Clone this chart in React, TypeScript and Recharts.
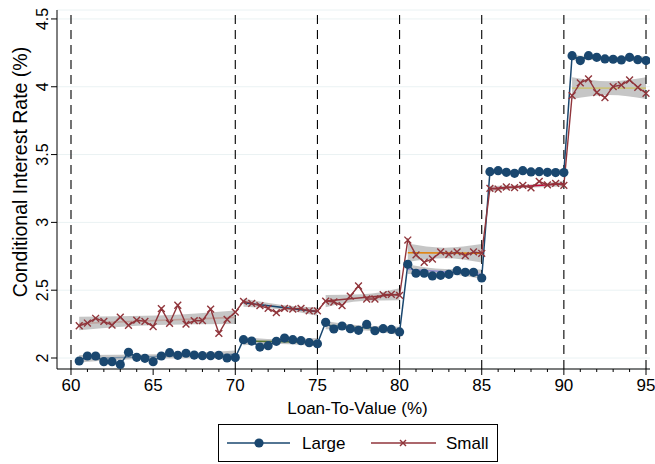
import {
  Area,
  CartesianGrid,
  ComposedChart,
  Label,
  Line,
  ReferenceLine,
  XAxis,
  YAxis,
} from "recharts";

// Binned LTV (upper edge of each half-point bin)
const ltv = [
  60.5, 61, 61.5, 62, 62.5, 63, 63.5, 64, 64.5, 65, 65.5, 66, 66.5, 67, 67.5,
  68, 68.5, 69, 69.5, 70, 70.5, 71, 71.5, 72, 72.5, 73, 73.5, 74, 74.5, 75,
  75.5, 76, 76.5, 77, 77.5, 78, 78.5, 79, 79.5, 80, 80.5, 81, 81.5, 82, 82.5,
  83, 83.5, 84, 84.5, 85, 85.5, 86, 86.5, 87, 87.5, 88, 88.5, 89, 89.5, 90,
  90.5, 91, 91.5, 92, 92.5, 93, 93.5, 94, 94.5, 95,
];

const large = [
  1.978, 2.015, 2.015, 1.973, 1.973, 1.953, 2.042, 2.005, 1.998, 1.973, 2.015,
  2.039, 2.02, 2.035, 2.022, 2.017, 2.017, 2.02, 2.0, 2.003,
  2.135, 2.125, 2.081, 2.091, 2.123, 2.147, 2.135, 2.128, 2.113, 2.105,
  2.263, 2.214, 2.236, 2.216, 2.204, 2.248, 2.201, 2.216, 2.211, 2.192,
  2.691, 2.625, 2.625, 2.605, 2.61, 2.617, 2.644, 2.632, 2.632, 2.59,
  3.374, 3.381, 3.369, 3.362, 3.381, 3.372, 3.374, 3.369, 3.367, 3.367,
  4.229, 4.193, 4.229, 4.217, 4.205, 4.203, 4.198, 4.217, 4.2, 4.193,
];

const small = [
  2.238, 2.258, 2.293, 2.27, 2.243, 2.302, 2.241, 2.28, 2.27, 2.231, 2.364,
  2.256, 2.389, 2.25, 2.275, 2.275, 2.361, 2.182, 2.285, 2.338,
  2.418, 2.403, 2.386, 2.366, 2.334, 2.366, 2.361, 2.366, 2.347, 2.347,
  2.42, 2.413, 2.386, 2.457, 2.531, 2.435, 2.435, 2.467, 2.47, 2.462,
  2.87, 2.76, 2.706, 2.73, 2.782, 2.765, 2.782, 2.755, 2.782, 2.772,
  3.251, 3.246, 3.261, 3.256, 3.273, 3.254, 3.303, 3.276, 3.288, 3.273,
  3.934, 4.028, 4.058, 3.957, 3.92, 4.001, 4.013, 4.05, 3.996, 3.952,
];

// Linear fits with 95% CI, one per LTV band
const segStart = [60.5, 70.5, 75.5, 80.5, 85.5, 90.5];
const segMid = [65.25, 72.75, 77.75, 82.75, 87.75, 92.75];
const segEnd = [70, 75, 80, 85, 90, 95];

const largeFitStart = [1.995, 2.125, 2.243, 2.655, 3.373, 4.215];
const largeFitMid = [2.012, 2.121, 2.222, 2.637, 3.372, 4.21];
const largeFitEnd = [2.028, 2.117, 2.2, 2.618, 3.371, 4.205];
const largeCiEdge = [0.028, 0.03, 0.03, 0.035, 0.012, 0.02];
const largeCiMid = [0.016, 0.017, 0.017, 0.02, 0.007, 0.011];

const smallFitStart = [2.255, 2.408, 2.42, 2.776, 3.248, 3.99];
const smallFitMid = [2.278, 2.375, 2.445, 2.774, 3.266, 3.99];
const smallFitEnd = [2.3, 2.342, 2.47, 2.772, 3.285, 3.99];
const smallCiEdge = [0.05, 0.03, 0.045, 0.068, 0.02, 0.08];
const smallCiMid = [0.035, 0.017, 0.025, 0.039, 0.011, 0.05];

const largeFitColors = ["#7b92a8", "#55752f", "#6e8e84", "#938dd2", "#a0522d", "#2d6d66"];
const smallFitColors = ["#bfa19c", "#1a476f", "#90353b", "#e37e00", "#c10534", "#cac27e"];

const xTicks = [
  60, 61, 62, 63, 64, 65, 66, 67, 68, 69, 70, 71, 72, 73, 74, 75, 76, 77, 78,
  79, 80, 81, 82, 83, 84, 85, 86, 87, 88, 89, 90, 91, 92, 93, 94, 95,
];
const yTicks = [2, 2.5, 3, 3.5, 4, 4.5];
const cutoffs = [60, 70, 75, 80, 85, 90, 95];

const NAVY = "#1a476f";
const MAROON = "#90353b";
const BAND = "#c0c0c0";
const FONT = '"Liberation Sans", Arial, Helvetica, sans-serif';

const rows = ltv.map((x, i) => ({ x, large: large[i], small: small[i] }));

function ciRows(s: number[], m: number[], e: number[], edge: number[], mid: number[], i: number) {
  return [
    { x: segStart[i], band: [s[i] - edge[i], s[i] + edge[i]] },
    { x: segMid[i], band: [m[i] - mid[i], m[i] + mid[i]] },
    { x: segEnd[i], band: [e[i] - edge[i], e[i] + edge[i]] },
  ];
}

function fitRows(s: number[], e: number[], i: number) {
  return [
    { x: segStart[i], fit: s[i] },
    { x: segEnd[i], fit: e[i] },
  ];
}

function CircleDot(props: any) {
  const { cx, cy, index } = props;
  return <circle key={`c${index}`} cx={cx} cy={cy} r={4.6} fill={NAVY} />;
}

function CrossDot(props: any) {
  const { cx, cy, index } = props;
  const d = 3.4;
  return (
    <g key={`x${index}`} stroke={MAROON} strokeWidth={1.4}>
      <line x1={cx - d} y1={cy - d} x2={cx + d} y2={cy + d} />
      <line x1={cx - d} y1={cy + d} x2={cx + d} y2={cy - d} />
    </g>
  );
}

function LtvTick(props: any) {
  const { x, y, payload } = props;
  const v = payload.value as number;
  const major = v % 5 === 0;
  return (
    <g>
      <line x1={x} x2={x} y1={y} y2={y + (major ? 6 : 3)} stroke="#000" />
      {major && (
        <text x={x} y={y + 22} textAnchor="middle" fontSize={17} fontFamily={FONT} fill="#000">
          {v}
        </text>
      )}
    </g>
  );
}

function RateTick(props: any) {
  const { x, y, payload } = props;
  const tx = x - 3;
  return (
    <text
      x={tx}
      y={y}
      transform={`rotate(-90 ${tx} ${y})`}
      textAnchor="middle"
      fontSize={16}
      fontFamily={FONT}
      fill="#000"
    >
      {payload.value}
    </text>
  );
}

function YTitle(props: any) {
  const { x, y } = props.viewBox;
  const tx = x + 27;
  const ty = y + 162;
  return (
    <text x={tx} y={ty} transform={`rotate(-90 ${tx} ${ty})`} textAnchor="middle" fontSize={19.5} fontFamily={FONT} fill="#000">
      Conditional Interest Rate (%)
    </text>
  );
}

function XTitle(props: any) {
  const { x, y, width } = props.viewBox;
  return (
    <text x={x + width / 2 + 4} y={y + 45} textAnchor="middle" fontSize={17} fontFamily={FONT} fill="#000">
      Loan-To-Value (%)
    </text>
  );
}

function LegendBox() {
  return (
    <svg width={281} height={38} style={{ position: "absolute", left: 218, top: 424 }}>
      <rect x={0.5} y={0.5} width={279} height={37} fill="#fff" stroke="#000" />
      <line x1={9} x2={72} y1={19} y2={19} stroke={NAVY} strokeWidth={1.5} />
      <circle cx={41} cy={19} r={4.6} fill={NAVY} />
      <text x={84} y={25} fontSize={17} fontFamily={FONT} fill="#000">
        Large
      </text>
      <line x1={153} x2={218} y1={19} y2={19} stroke={MAROON} strokeWidth={1.5} />
      <g stroke={MAROON} strokeWidth={1.4}>
        <line x1={182} y1={16} x2={188} y2={22} />
        <line x1={182} y1={22} x2={188} y2={16} />
      </g>
      <text x={228} y={25} fontSize={17} fontFamily={FONT} fill="#000">
        Small
      </text>
    </svg>
  );
}

export default function App() {
  return (
    <div style={{ position: "absolute", left: 0, top: 0, width: 655, height: 464, background: "#fff" }}>
      <ComposedChart
        width={655}
        height={464}
        data={rows}
        margin={{ top: 10, right: 5, bottom: 45, left: 0 }}
      >
        <CartesianGrid horizontal vertical={false} stroke="#eaf2f3" />
        <XAxis
          type="number"
          dataKey="x"
          domain={[59.148, 95.243]}
          allowDataOverflow
          ticks={xTicks}
          interval={0}
          tickSize={0}
          tickMargin={0}
          tickLine={false}
          tick={<LtvTick />}
          height={50}
          stroke="#000"
        >
          <Label content={<XTitle />} />
        </XAxis>
        <YAxis
          type="number"
          domain={[1.919, 4.566]}
          allowDataOverflow
          ticks={yTicks}
          interval={0}
          tickSize={6}
          tickMargin={0}
          tick={<RateTick />}
          width={57}
          stroke="#000"
        >
          <Label content={<YTitle />} />
        </YAxis>
        {cutoffs.map((c) => (
          <ReferenceLine key={`cut${c}`} x={c} stroke="#000" strokeWidth={1.1} strokeDasharray="9 6" />
        ))}
        {segStart.map((_, i) => (
          <Area
            key={`lci${i}`}
            data={ciRows(largeFitStart, largeFitMid, largeFitEnd, largeCiEdge, largeCiMid, i)}
            dataKey="band"
            type="monotone"
            stroke="none"
            fill={BAND}
            fillOpacity={0.9}
            isAnimationActive={false}
          />
        ))}
        {segStart.map((_, i) => (
          <Area
            key={`sci${i}`}
            data={ciRows(smallFitStart, smallFitMid, smallFitEnd, smallCiEdge, smallCiMid, i)}
            dataKey="band"
            type="monotone"
            stroke="none"
            fill={BAND}
            fillOpacity={0.9}
            isAnimationActive={false}
          />
        ))}
        {segStart.map((_, i) => (
          <Line
            key={`lfit${i}`}
            data={fitRows(largeFitStart, largeFitEnd, i)}
            dataKey="fit"
            stroke={largeFitColors[i]}
            strokeWidth={1.6}
            dot={false}
            activeDot={false}
            isAnimationActive={false}
          />
        ))}
        {segStart.map((_, i) => (
          <Line
            key={`sfit${i}`}
            data={fitRows(smallFitStart, smallFitEnd, i)}
            dataKey="fit"
            stroke={smallFitColors[i]}
            strokeWidth={1.6}
            dot={false}
            activeDot={false}
            isAnimationActive={false}
          />
        ))}
        <Line
          dataKey="large"
          stroke={NAVY}
          strokeWidth={1.5}
          dot={<CircleDot />}
          activeDot={false}
          isAnimationActive={false}
        />
        <Line
          dataKey="small"
          stroke={MAROON}
          strokeWidth={1.4}
          dot={<CrossDot />}
          activeDot={false}
          isAnimationActive={false}
        />
      </ComposedChart>
      <LegendBox />
    </div>
  );
}
